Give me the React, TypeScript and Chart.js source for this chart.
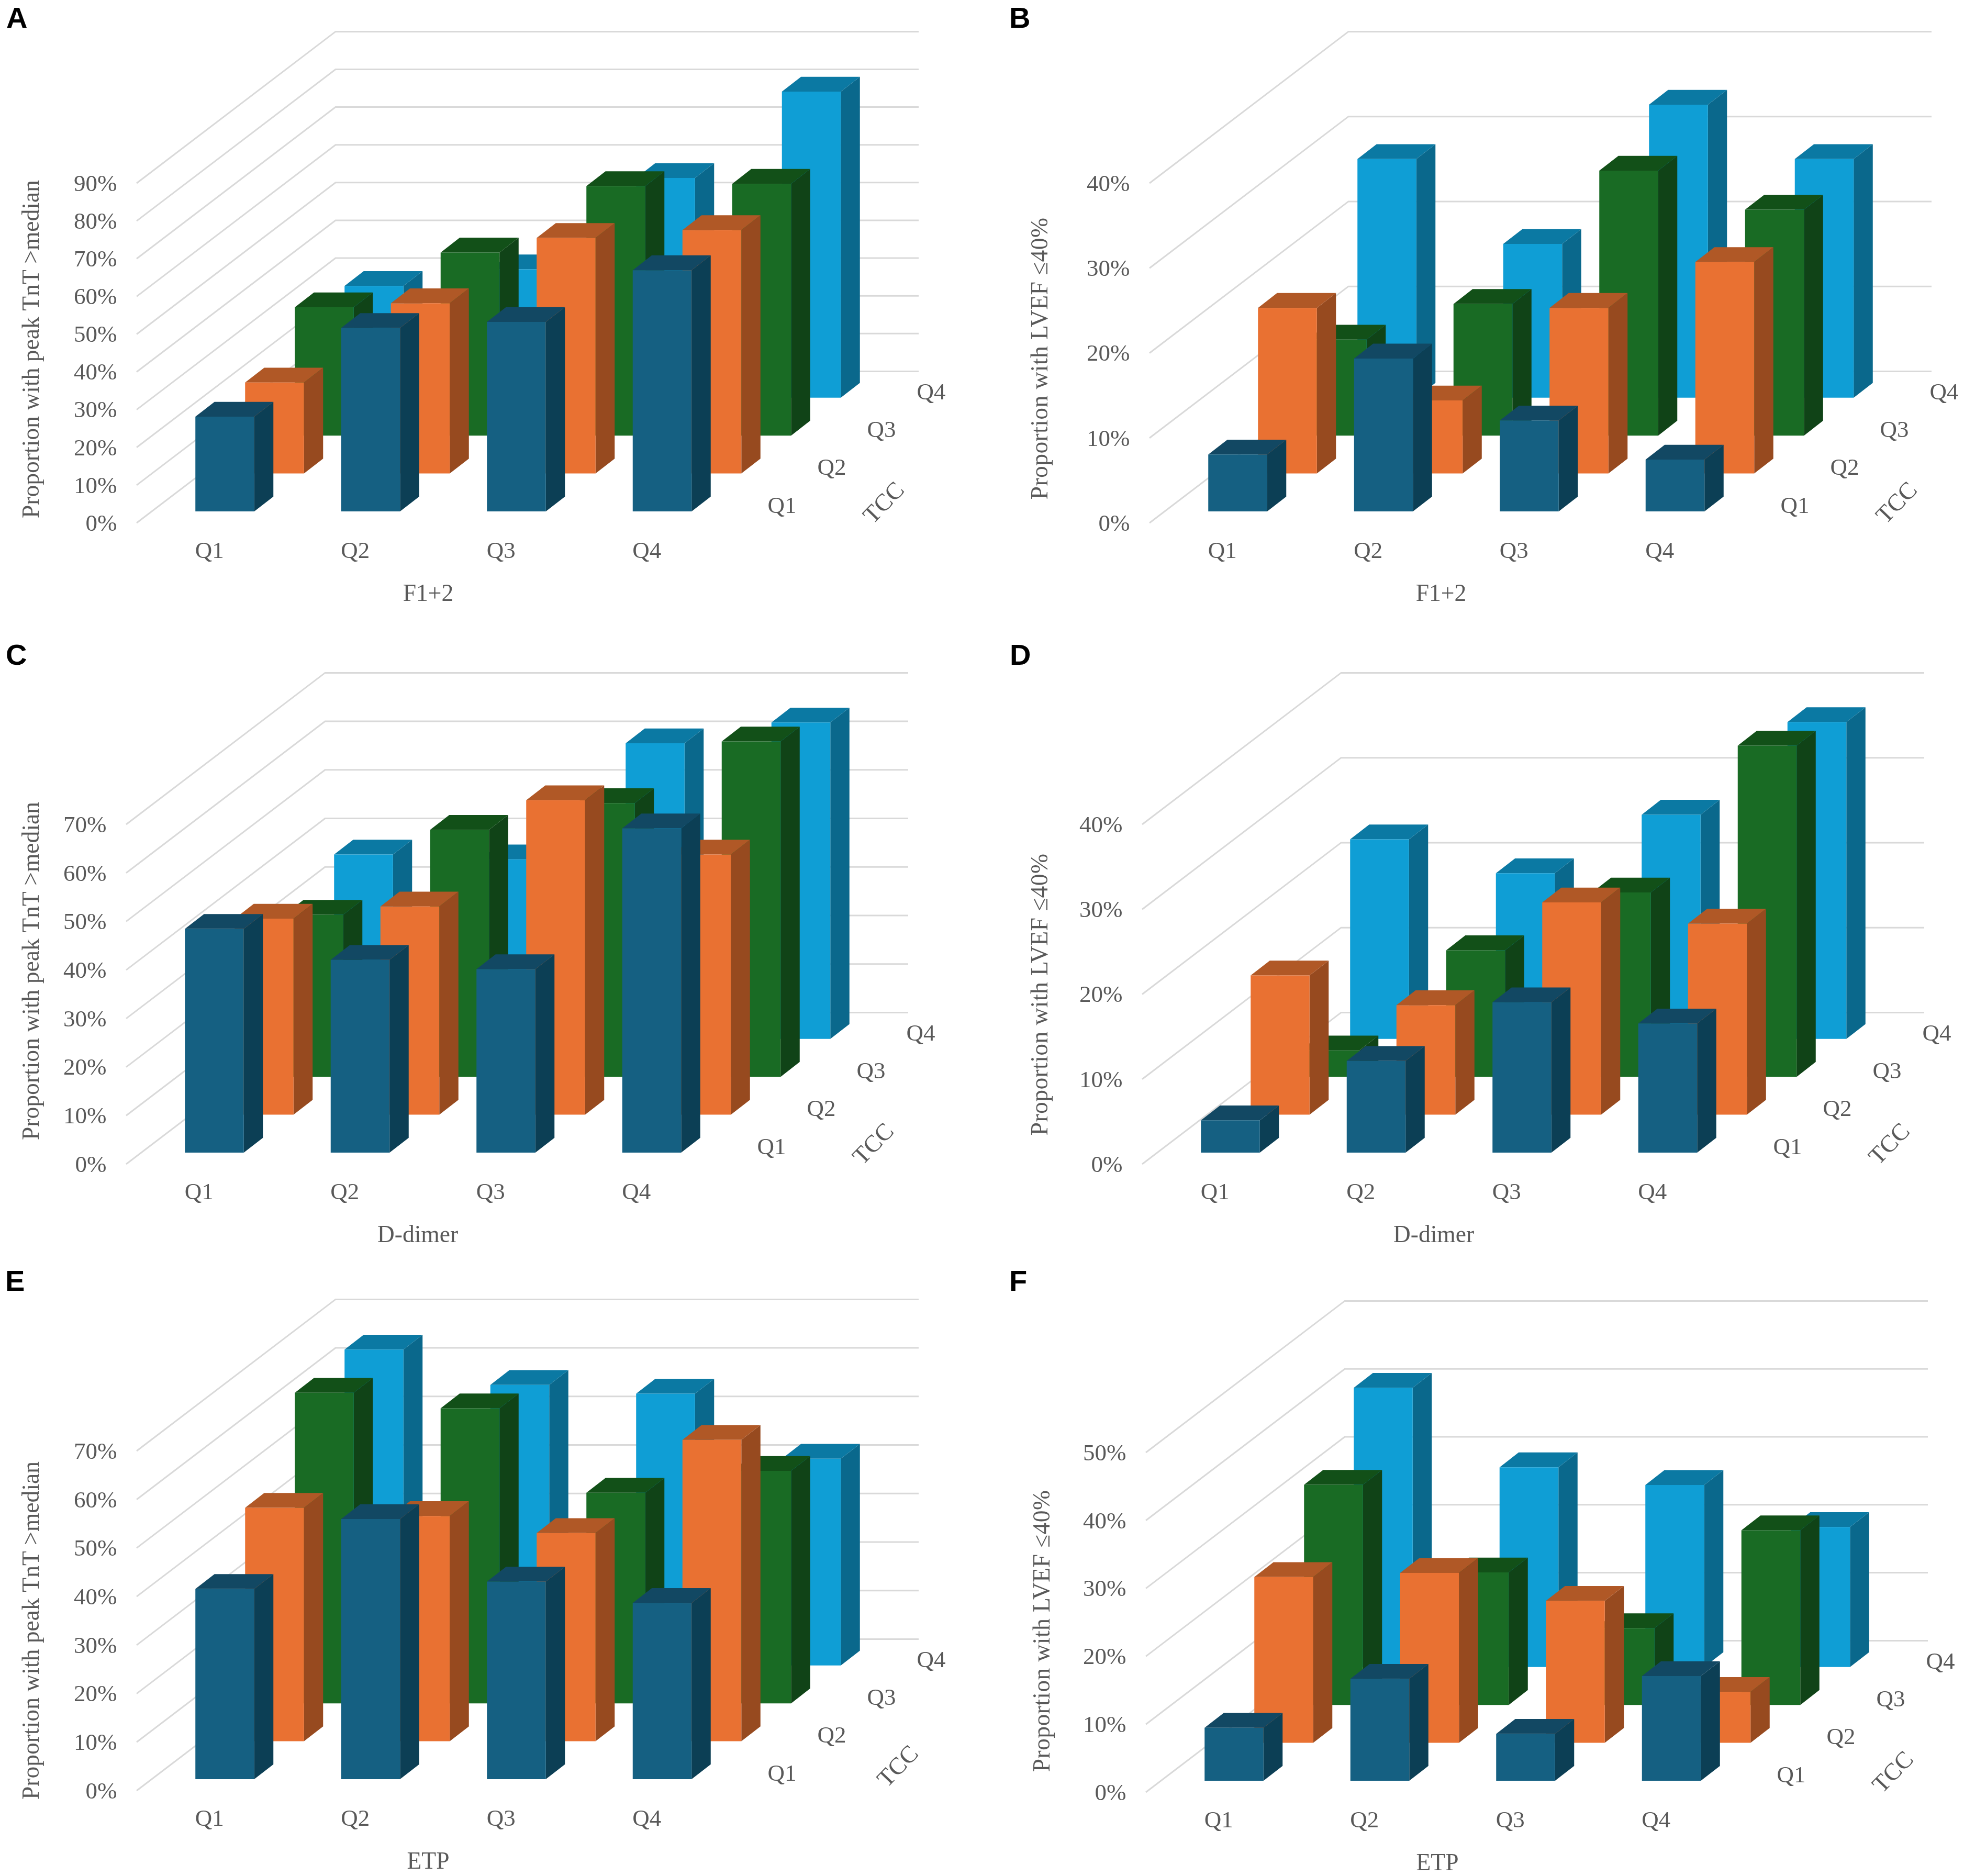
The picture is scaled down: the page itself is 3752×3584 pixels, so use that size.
import React, { useEffect, useRef } from "react";
import { Chart, registerables } from "chart.js";

Chart.register(...registerables);

const categories = ["Q1", "Q2", "Q3", "Q4"];
const depthLabels = ["Q1", "Q2", "Q3", "Q4"];

// Panel A: F1+2, peak TnT
const aQ1 = [25.1, 48.6, 50.2, 63.9];
const aQ2 = [24.1, 45.1, 62.4, 64.5];
const aQ3 = [34.0, 48.5, 66.1, 66.7];
const aQ4 = [29.6, 34.0, 58.2, 81.1];
// Panel B: F1+2, LVEF
const bQ1 = [6.7, 18.0, 10.7, 6.1];
const bQ2 = [19.5, 8.6, 19.5, 24.9];
const bQ3 = [11.3, 15.5, 31.2, 26.6];
const bQ4 = [28.1, 18.1, 34.5, 28.1];
// Panel C: D-dimer, peak TnT
const cQ1 = [46.1, 39.7, 37.8, 66.8];
const cQ2 = [40.4, 42.9, 64.8, 53.6];
const cQ3 = [33.4, 50.9, 56.4, 69.1];
const cQ4 = [38.0, 37.0, 60.9, 65.2];
// Panel D: D-dimer, LVEF
const dQ1 = [3.8, 10.8, 17.7, 15.2];
const dQ2 = [16.4, 12.9, 25.0, 22.5];
const dQ3 = [3.1, 14.9, 21.7, 39.0];
const dQ4 = [23.5, 19.5, 26.4, 37.3];
// Panel E: ETP, peak TnT
const eQ1 = [39.2, 53.6, 40.7, 36.3];
const eQ2 = [48.1, 46.4, 42.9, 62.1];
const eQ3 = [64.0, 60.8, 43.4, 47.9];
const eQ4 = [65.1, 57.8, 56.0, 42.6];
// Panel F: ETP, LVEF
const fQ1 = [7.8, 15.0, 6.9, 15.4];
const fQ2 = [24.4, 25.0, 20.9, 7.5];
const fQ3 = [32.4, 19.5, 11.3, 25.7];
const fQ4 = [41.1, 29.4, 26.8, 20.6];

const TNT_TITLE = "Proportion with peak TnT >median";
const LVEF_TITLE = "Proportion with LVEF \u226440%";

const panels = [
  { letter: "A", lx: 12, ly: 6, ox: 0, oy: 0, max: 90, yTitle: TNT_TITLE, xTitle: "F1+2", tx: 62, ty: 667, spacing: 0, series: [aQ1, aQ2, aQ3, aQ4], tcc: [0, 0] },
  { letter: "B", lx: 1928, ly: 6, ox: 1935, oy: 0, max: 40, yTitle: LVEF_TITLE, xTitle: "F1+2", tx: 1989, ty: 685, spacing: 0.4, series: [bQ1, bQ2, bQ3, bQ4], tcc: [0, 0] },
  { letter: "C", lx: 11, ly: 1223, ox: -20, oy: 1225, max: 70, yTitle: TNT_TITLE, xTitle: "D-dimer", tx: 62, ty: 1855, spacing: 0, series: [cQ1, cQ2, cQ3, cQ4], tcc: [0, 0] },
  { letter: "D", lx: 1929, ly: 1223, ox: 1921, oy: 1225, max: 40, yTitle: LVEF_TITLE, xTitle: "D-dimer", tx: 1989, ty: 1900, spacing: 0.4, series: [dQ1, dQ2, dQ3, dQ4], tcc: [0, 0] },
  { letter: "E", lx: 10, ly: 2419, ox: 0, oy: 2422, max: 70, yTitle: TNT_TITLE, xTitle: "ETP", tx: 62, ty: 3115, spacing: 0, series: [eQ1, eQ2, eQ3, eQ4], tcc: [27, -8] },
  { letter: "F", lx: 1928, ly: 2419, ox: 1928, oy: 2425, max: 50, yTitle: LVEF_TITLE, xTitle: "ETP", tx: 1993, ty: 3116, spacing: 0.4, series: [fQ1, fQ2, fQ3, fQ4], tcc: [0, 0] },
];

const seriesNames = ["Q1", "Q2", "Q3", "Q4"];
const frontColors = ["#156082", "#E97132", "#196B24", "#0F9ED5"];
const sideColors = ["#0C3F55", "#974A1F", "#104317", "#0A688C"];
const topColors = ["#124863", "#B05826", "#125018", "#0B79A3"];

const W = 1810;
const H = 1169;
const PLOT_LEFT = 261;
const PLOT_RIGHT = 1375;
const PLOT_TOP = 350;
const PLOT_BOTTOM = 999;
const UNIT_X = 95;
const UNIT_Y = 72.4;
const BAR_W = 112.5;
const BAR_DX = 36.5;
const BAR_DY = 28.3;
const FONT = "'Liberation Serif'";
const TEXT = "#595959";
const GRID = "#D9D9D9";

const threeD = {
  id: "threeD",
  beforeDatasetsDraw(chart: any) {
    const { ctx, chartArea, scales } = chart;
    ctx.save();
    ctx.strokeStyle = GRID;
    ctx.lineWidth = 3;
    const wallDx = UNIT_X * 4;
    const wallDy = UNIT_Y * 4;
    for (const t of scales.y.ticks) {
      const y = scales.y.getPixelForValue(t.value);
      ctx.beginPath();
      ctx.moveTo(chartArea.left, y);
      ctx.lineTo(chartArea.left + wallDx, y - wallDy);
      ctx.lineTo(chartArea.right + wallDx, y - wallDy);
      ctx.stroke();
    }
    ctx.restore();
  },
  beforeDatasetDraw(chart: any, args: any) {
    const { ctx } = chart;
    const i = args.index;
    const tx = (UNIT_X - BAR_DX) / 2 + i * UNIT_X;
    const ty = -((UNIT_Y - BAR_DY) / 2 + i * UNIT_Y);
    ctx.save();
    ctx.translate(tx, ty);
    for (const el of args.meta.data) {
      const { x, y, base, width } = el;
      const l = x - width / 2;
      const r = x + width / 2;
      ctx.fillStyle = sideColors[i];
      ctx.beginPath();
      ctx.moveTo(r, y);
      ctx.lineTo(r + BAR_DX, y - BAR_DY);
      ctx.lineTo(r + BAR_DX, base - BAR_DY);
      ctx.lineTo(r, base);
      ctx.closePath();
      ctx.fill();
      ctx.fillStyle = topColors[i];
      ctx.beginPath();
      ctx.moveTo(l, y);
      ctx.lineTo(l + BAR_DX, y - BAR_DY);
      ctx.lineTo(r + BAR_DX, y - BAR_DY);
      ctx.lineTo(r, y);
      ctx.closePath();
      ctx.fill();
    }
  },
  afterDatasetDraw(chart: any) {
    chart.ctx.restore();
  },
  afterDraw(chart: any, _args: any, opts: any) {
    const { ctx, chartArea } = chart;
    ctx.save();
    ctx.fillStyle = TEXT;
    ctx.textAlign = "center";
    ctx.textBaseline = "middle";
    ctx.font = `45px ${FONT}`;
    depthLabels.forEach((label, i) => {
      ctx.fillText(label, chartArea.right + 119 + i * UNIT_X, chartArea.bottom - 31 - i * UNIT_Y);
    });
    ctx.save();
    ctx.translate(chartArea.right + 315 + opts.tcc[0], chartArea.bottom - 37 + opts.tcc[1]);
    ctx.rotate((-46 * Math.PI) / 180);
    ctx.font = `46px ${FONT}`;
    ctx.fillText("TCC", 0, 0);
    ctx.restore();
    ctx.save();
    ctx.font = `45.6px ${FONT}`;
    (ctx as any).letterSpacing = `${opts.spacing}px`;
    ctx.translate(opts.titleX, opts.titleY);
    ctx.rotate(-Math.PI / 2);
    ctx.fillText(opts.yTitle, 0, 0);
    ctx.restore();
    ctx.restore();
  },
};

function Panel({ panel }: { panel: (typeof panels)[number] }) {
  const ref = useRef<HTMLCanvasElement | null>(null);
  useEffect(() => {
    const chart = new Chart(ref.current as HTMLCanvasElement, {
      type: "bar",
      data: {
        labels: categories,
        datasets: panel.series.map((values, i) => ({
          label: seriesNames[i],
          data: values,
          backgroundColor: frontColors[i],
          borderWidth: 0,
          inflateAmount: 0,
          barThickness: BAR_W,
          grouped: false,
          clip: false,
        })),
      } as any,
      options: {
        animation: false,
        responsive: false,
        devicePixelRatio: 1,
        layout: { padding: { top: PLOT_TOP, right: W - PLOT_RIGHT, left: 0, bottom: 0 } },
        plugins: {
          legend: { display: false },
          tooltip: { enabled: false },
          threeD: {
            tcc: panel.tcc,
            yTitle: panel.yTitle,
            spacing: panel.spacing,
            titleX: panel.tx - panel.ox,
            titleY: panel.ty - panel.oy,
          },
        },
        scales: {
          x: {
            type: "category",
            offset: true,
            grid: { display: false, drawTicks: false },
            border: { display: false },
            ticks: {
              color: TEXT,
              font: { family: FONT, size: 45 },
              padding: 28,
              autoSkip: false,
              minRotation: 0,
              maxRotation: 0,
            },
            title: {
              display: true,
              text: panel.xTitle,
              color: TEXT,
              font: { family: FONT, size: 45.6 },
              padding: { top: 0, bottom: 6 },
            },
            afterFit(s: any) {
              s.height = H - PLOT_BOTTOM;
            },
          },
          y: {
            type: "linear",
            min: 0,
            max: panel.max,
            grid: { display: false, drawTicks: false },
            border: { display: false },
            ticks: {
              stepSize: 10,
              color: TEXT,
              font: { family: FONT, size: 45 },
              padding: 37.5,
              labelOffset: 3,
              callback: (v: any) => `${v}%`,
            },
            afterFit(s: any) {
              s.width = PLOT_LEFT;
            },
          },
        },
      } as any,
      plugins: [threeD as any],
    });
    return () => chart.destroy();
  }, [panel]);
  return (
    <canvas
      ref={ref}
      width={W}
      height={H}
      style={{ position: "absolute", left: panel.ox, top: panel.oy, width: W, height: H }}
    />
  );
}

export default function App() {
  return (
    <div style={{ position: "absolute", left: 0, top: 0, width: 3752, height: 3584, overflow: "hidden", background: "#fff" }}>
      {panels.map((p) => (
        <Panel key={p.letter} panel={p} />
      ))}
      {panels.map((p) => (
        <div
          key={p.letter + "-label"}
          style={{
            position: "absolute",
            left: p.lx,
            top: p.ly,
            fontFamily: "'Liberation Sans'",
            fontWeight: 700,
            fontSize: 56,
            lineHeight: "56px",
            color: "#000",
          }}
        >
          {p.letter}
        </div>
      ))}
    </div>
  );
}
